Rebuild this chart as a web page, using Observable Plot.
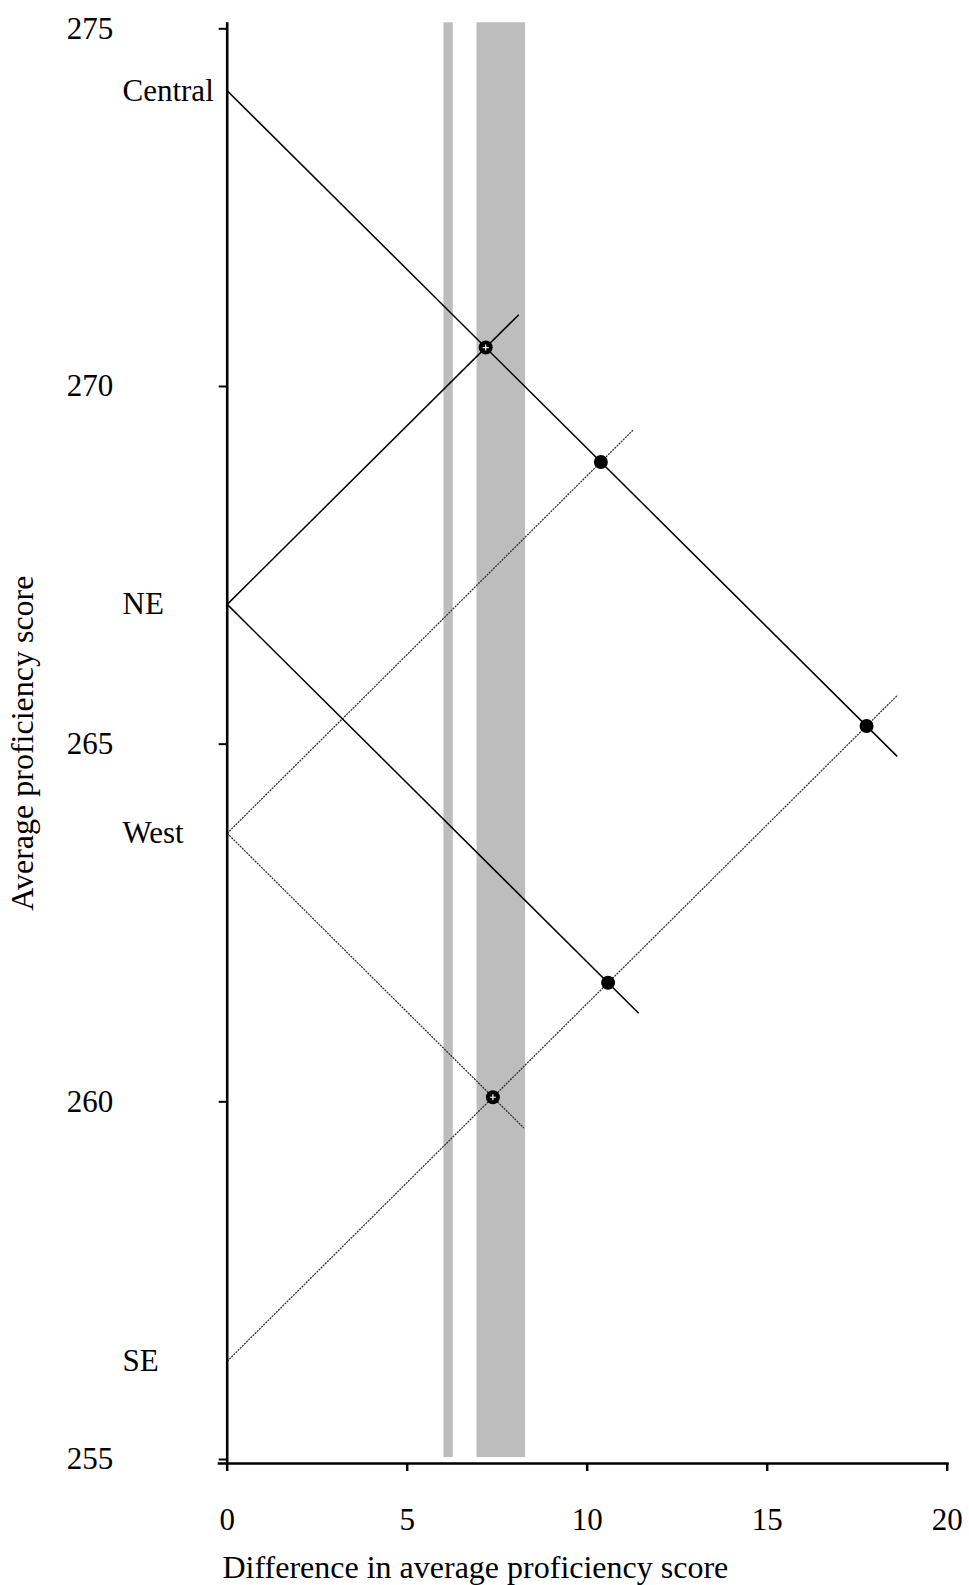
<!DOCTYPE html>
<html>
<head>
<meta charset="utf-8">
<script src="https://cdn.jsdelivr.net/npm/d3@7"></script>
<script src="https://cdn.jsdelivr.net/npm/@observablehq/plot@0.6"></script>
<style>
  html, body { margin: 0; padding: 0; background: #fff; }
  #chart svg { display: block; }
</style>
</head>
<body>
<div id="chart"></div>
<script>
// ---- data ----
const regions = ["Central", "NE", "West", "SE"];
const scores = [274.19, 267.01, 263.81, 256.43];
const lineStyle = ["solid", "solid", "dotted", "dotted"];
// x where each region's ascending / descending comparison line ends (null = no line)
const upEndX = [null, 8.10, 11.27, 18.63];
const downEndX = [18.61, 11.43, 8.24, null];
// compared pairs and the marker drawn at their crossing
const pairA = ["Central", "Central", "Central", "NE", "West"];
const pairB = ["NE", "West", "SE", "SE", "SE"];
const pairMark = ["plus", "dot", "dot", "dot", "plus"];
// shaded critical-difference bands
const bandLo = [6.02, 6.94];
const bandHi = [6.28, 8.29];
const xTicks = [0, 5, 10, 15, 20];
const yTicks = [255, 260, 265, 270, 275];
const xTitle = "Difference in average proficiency score";
const yTitle = "Average proficiency score";

// ---- derived tables ----
const score = Object.fromEntries(regions.map((r, i) => [r, scores[i]]));
const segs = [];
regions.forEach((r, i) => {
  if (upEndX[i] != null) segs.push({region: r, style: lineStyle[i], x1: 0, y1: scores[i], x2: upEndX[i], y2: scores[i] + upEndX[i] / 2});
  if (downEndX[i] != null) segs.push({region: r, style: lineStyle[i], x1: 0, y1: scores[i], x2: downEndX[i], y2: scores[i] - downEndX[i] / 2});
});
const pairs = pairA.map((a, i) => ({
  a, b: pairB[i], mark: pairMark[i],
  x: score[a] - score[pairB[i]],
  y: (score[a] + score[pairB[i]]) / 2
}));
const bands = bandLo.map((lo, i) => ({lo, hi: bandHi[i]}));
const labels = regions.map((r, i) => ({region: r, score: scores[i]}));

const font = "'Liberation Serif', 'Times New Roman', serif";

const chart = Plot.plot({
  width: 969,
  height: 1585,
  marginLeft: 226.7,
  marginRight: 22.3,
  marginTop: 22.3,
  marginBottom: 122,
  style: {fontFamily: font, fontSize: "31px", color: "#000", background: "#fff", overflow: "visible"},
  x: {domain: [0, 20]},
  y: {domain: [255, 275.14]},
  marks: [
    Plot.rect(bands, {x1: "lo", x2: "hi", fill: "#bdbdbd", insetBottom: 6}),
    Plot.link(segs.filter(d => d.style === "dotted"), {x1: "x1", y1: "y1", x2: "x2", y2: "y2", stroke: "#333", strokeWidth: 1.3, strokeDasharray: "2,1"}),
    Plot.link(segs.filter(d => d.style === "solid"), {x1: "x1", y1: "y1", x2: "x2", y2: "y2", stroke: "#000", strokeWidth: 1.5}),
    Plot.dot(pairs.filter(d => d.mark === "dot"), {x: "x", y: "y", r: 7, fill: "#000", stroke: "none"}),
    Plot.dot(pairs.filter(d => d.mark === "plus"), {x: "x", y: "y", r: 7, fill: "#000", stroke: "none"}),
    Plot.dot(pairs.filter(d => d.mark === "plus"), {x: "x", y: "y", r: 2.1, symbol: "plus", stroke: "#fff", strokeWidth: 1.2}),
    Plot.ruleX([0], {stroke: "#000", strokeWidth: 2.6}),
    Plot.ruleY([255], {stroke: "#000", strokeWidth: 2.4, insetLeft: -9, insetRight: -2}),
    Plot.axisY({ticks: yTicks, tickSize: 8, tickPadding: 106, label: null, strokeWidth: 2, fontSize: 31, dy: -4}),
    Plot.axisX({ticks: xTicks, tickSize: 8, tickPadding: 36, label: null, strokeWidth: 2.5, fontSize: 31}),
    Plot.text(labels, {x: 0, y: "score", text: "region", textAnchor: "start", dx: -104.7, fontSize: 31}),
    Plot.text([xTitle], {frameAnchor: "bottom-left", textAnchor: "start", dx: -4.7, dy: 114, fontSize: 32}),
    Plot.text([yTitle], {frameAnchor: "left", textAnchor: "middle", rotate: -90, dx: -204.5, fontSize: 32})
  ]
});
document.getElementById("chart").appendChild(chart);
</script>
</body>
</html>
